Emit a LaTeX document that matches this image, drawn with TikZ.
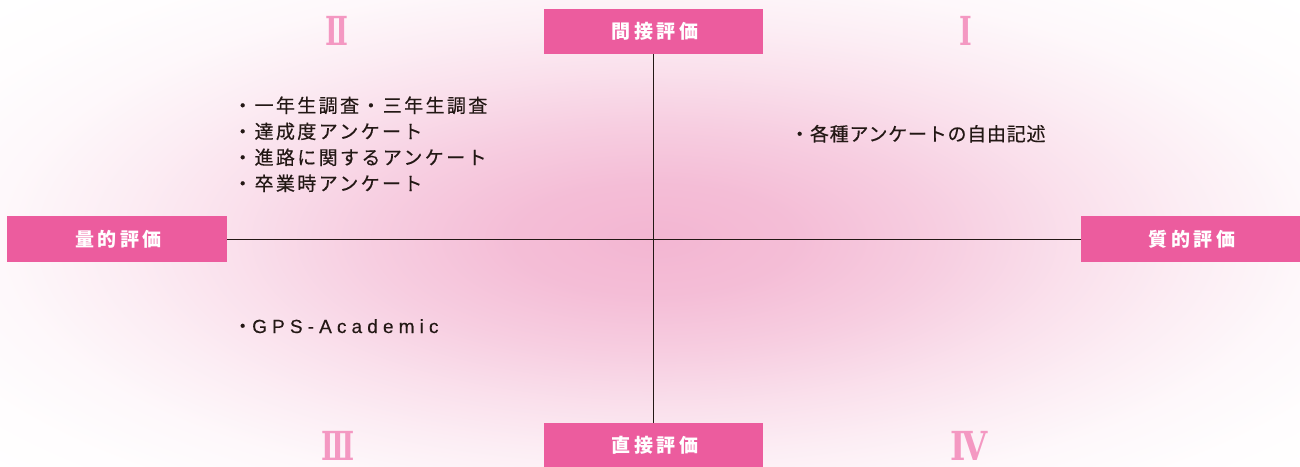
\documentclass[tikz,border=0pt]{standalone}
\usepackage{fontspec}
\newfontfamily\jpl[LetterSpace=12.5,FakeBold=0.4]{Noto Sans CJK JP}
\newfontfamily\jpr[LetterSpace=4,FakeBold=0.4]{Noto Sans CJK JP}
\newfontfamily\gpsfont[LetterSpace=27,FakeBold=0.3]{Liberation Sans}
\newfontfamily\jpbox[LetterSpace=18]{Noto Sans CJK JP}
\newfontfamily\quadfont[FakeStretch=0.68]{DejaVu Serif}
\newfontfamily\quadfontw[FakeStretch=0.82]{DejaVu Serif}
\definecolor{boxpink}{RGB}{236,92,158}
\definecolor{numpink}{RGB}{244,152,194}
\definecolor{glowc}{RGB}{243,182,210}
\definecolor{txt}{RGB}{35,24,21}
\pgfdeclareradialshading{glow}{\pgfpoint{0bp}{0bp}}{color(0bp)=(glowc); color(4bp)=(glowc!90!white); color(8bp)=(glowc!68!white); color(12bp)=(glowc!42!white); color(15.3bp)=(glowc!24!white); color(18.5bp)=(glowc!10!white); color(21.8bp)=(glowc!3!white); color(25bp)=(white); color(50bp)=(white)}
\begin{document}
\begin{tikzpicture}[x=1pt,y=-1pt,
  axisbox/.style={fill=boxpink,draw=none,text=white,inner sep=0pt,minimum width=219pt,minimum height=45pt,font=\jpbox\bfseries\fontsize{19}{22}\selectfont},
  quad/.style={text=numpink,inner sep=0pt,anchor=base,font=\quadfont\bfseries\fontsize{40}{44}\selectfont},
  quadw/.style={text=numpink,inner sep=0pt,anchor=base,font=\quadfontw\bfseries\fontsize{40}{44}\selectfont},
  itemL/.style={text=txt,inner sep=0pt,anchor=base west,font=\jpl\fontsize{19}{26}\selectfont},
  itemR/.style={text=txt,inner sep=0pt,anchor=base west,font=\jpr\fontsize{19}{26}\selectfont}]
\useasboundingbox (0,0) rectangle (1300,466);
\fill[white] (0,0) rectangle (1300,466);
\begin{scope}
\clip (0,0) rectangle (1300,466);
\shade[shading=glow,xscale=2.5] (261.6,239) circle (353);
\end{scope}
\node[axisbox] (top) at (653.5,31.5) {間接評価\kern-3pt};
\node[axisbox,minimum height=44pt] (bot) at (653.5,445) {直接評価\kern-3pt};
\node[axisbox,minimum width=220pt,minimum height=46pt] (left) at (117,239) {量的評価\kern-3pt};
\node[axisbox,minimum height=46pt] (right) at (1190.5,239) {質的評価\kern-3pt};
\draw[txt,line width=1pt] (top.south) -- (bot.north);
\draw[txt,line width=1pt] (left.east) -- (right.west);
\node[quad] (q2) at (337,45) {Ⅱ};
\node[quad] (q1) at (965.5,45) {Ⅰ};
\node[quad] (q3) at (338,460) {Ⅲ};
\node[quadw] (q4) at (969.5,460.5) {Ⅳ};
\node[itemL] (l1) at (233,112.5) {・一年生調査・三年生調査};
\node[itemL] (l2) at (233,138.5) {・達成度アンケート};
\node[itemL] (l3) at (233,164.5) {・進路に関するアンケート};
\node[itemL] (l4) at (233,190.5) {・卒業時アンケート};
\node[itemL] (lb) at (233,333) {・{\gpsfont GPS-Academic}};
\node[itemR] (rt) at (790,141) {・各種アンケートの自由記述};
\end{tikzpicture}
\end{document}
